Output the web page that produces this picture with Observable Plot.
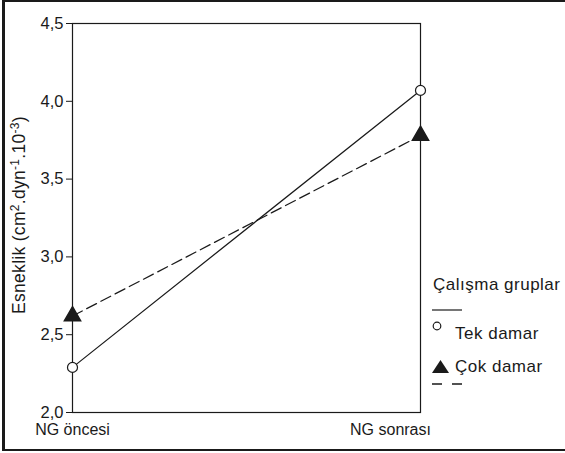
<!DOCTYPE html>
<html>
<head>
<meta charset="utf-8">
<script src="https://cdn.jsdelivr.net/npm/d3@7"></script>
<script src="https://cdn.jsdelivr.net/npm/@observablehq/plot@0.6"></script>
<style>
  html, body { margin: 0; padding: 0; background: #fff; }
  #wrap { position: relative; width: 565px; height: 453px; overflow: hidden; font-family: "Liberation Sans", Arial, sans-serif; color: #1a1a1a; }
  #wrap svg { position: absolute; left: 0; top: 0; }
  #border { position: absolute; left: 2px; top: 0; width: 570px; height: 447px; border-top: 2px solid #1a1a1a; border-left: 3px solid #1a1a1a; border-bottom: 2px solid #1a1a1a; pointer-events: none; }
  .lg { position: absolute; font-size: 17px; letter-spacing: 0.5px; white-space: nowrap; line-height: 1; }
  #ylab { position: absolute; left: 20px; top: 215px; transform: translate(-50%, -50%) rotate(-90deg); font-size: 17.5px; white-space: nowrap; line-height: 1; letter-spacing: 0.3px; }
  #ylab sup { font-size: 12px; vertical-align: 6px; line-height: 0; }
</style>
</head>
<body>
<div id="wrap"></div>
<script>
const periods = ["NG öncesi", "NG sonrası"];
const groups = ["Tek damar", "Çok damar"];
const tekDamar = [2.29, 4.07];
const cokDamar = [2.62, 3.78];
const yTicks = [2.0, 2.5, 3.0, 3.5, 4.0, 4.5];
const yLabelParts = ["Esneklik (cm", "2", ".dyn", "-1", ".10", "-3", ")"];
const legendTitle = "Çalışma gruplar";

const data = [
  ...periods.map((p, i) => ({period: p, value: tekDamar[i], group: groups[0]})),
  ...periods.map((p, i) => ({period: p, value: cokDamar[i], group: groups[1]}))
];
const tek = data.filter(d => d.group === groups[0]);
const cok = data.filter(d => d.group === groups[1]);
const fmt = d => d3.format(".1f")(d).replace(".", ",");
const ink = "#1a1a1a";

const chart = Plot.plot({
  width: 565,
  height: 453,
  marginLeft: 72,
  marginRight: 145,
  marginTop: 23,
  marginBottom: 41,
  style: {fontFamily: "Liberation Sans, Arial, sans-serif", fontSize: "16px", color: ink, background: "transparent"},
  x: {type: "point", domain: periods, padding: 0},
  y: {domain: [2.0, 4.5]},
  marks: [
    Plot.frame({stroke: ink, strokeWidth: 1.2}),
    Plot.axisY({ticks: yTicks, tickFormat: fmt, tickSize: 6, tickPadding: 3, stroke: ink, fontSize: 16.5, label: null}),
    Plot.axisX({ticks: [periods[0]], tickSize: 0, tickPadding: 11, label: null, fontSize: 16}),
    Plot.axisX({ticks: [periods[1]], tickSize: 0, tickPadding: 11, dx: -30, label: null, fontSize: 16}),
    Plot.line(tek, {x: "period", y: "value", stroke: ink, strokeWidth: 1.25}),
    Plot.line(cok, {x: "period", y: "value", stroke: ink, strokeWidth: 1.25, strokeDasharray: "11,5"}),
    Plot.dot(tek, {x: "period", y: "value", r: 5, stroke: ink, fill: "white", strokeWidth: 1.2}),
    Plot.dot(cok, {x: "period", y: "value", r: 6, symbol: "triangle", fill: ink, stroke: ink})
  ]
});

const wrap = document.getElementById("wrap");
wrap.appendChild(chart);

const p = yLabelParts;
const overlay = document.createElement("div");
overlay.innerHTML = `
  <div id="ylab">${p[0]}<sup>${p[1]}</sup>${p[2]}<sup>${p[3]}</sup>${p[4]}<sup>${p[5]}</sup>${p[6]}</div>
  <div class="lg" style="left:433px; top:276px;">${legendTitle}</div>
  <svg width="40" height="100" style="position:absolute; left:428px; top:300px; overflow:visible">
    <line x1="4" x2="34" y1="10" y2="10" stroke="${ink}" stroke-width="1.2"/>
    <circle cx="9" cy="26" r="3.8" fill="white" stroke="${ink}" stroke-width="1.2"/>
    <path d="M4,73 L12.5,60 L21,73 Z" fill="${ink}"/>
    <line x1="4" x2="34" y1="84" y2="84" stroke="${ink}" stroke-width="1.4" stroke-dasharray="10,10"/>
  </svg>
  <div class="lg" style="left:455px; top:325px;">${groups[0]}</div>
  <div class="lg" style="left:455px; top:358px;">${groups[1]}</div>
  <div id="border"></div>
`;
wrap.appendChild(overlay);
</script>
</body>
</html>
